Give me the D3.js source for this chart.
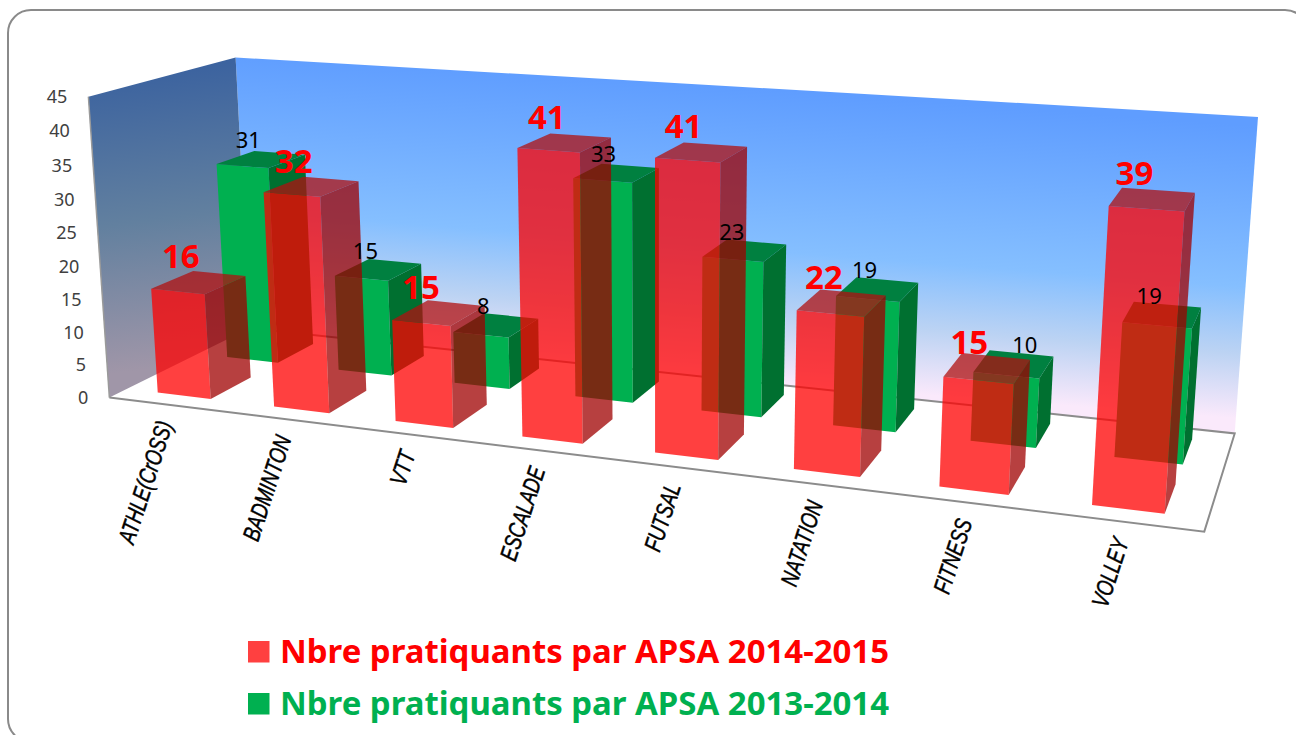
<!DOCTYPE html>
<html><head><meta charset="utf-8">
<script src="https://cdn.jsdelivr.net/npm/d3@7"></script>
<style>html,body{margin:0;padding:0;background:#fff;overflow:hidden}svg{display:block}</style>
</head><body><svg id="c" width="1296" height="735"></svg>
<script>
const categories=["ATHLE(CrOSS)","BADMINTON","VTT","ESCALADE","FUTSAL","NATATION","FITNESS","VOLLEY"];
const values2015=[16,32,15,41,41,22,15,39];
const values2014=[31,15,8,33,23,19,10,19];
const seriesNames=["Nbre pratiquants par APSA 2014-2015","Nbre pratiquants par APSA 2013-2014"];
const yTicks=[0,5,10,15,20,25,30,35,40,45];

// camera calibration: box corners [u 0..1, v 0..1, h 0..1] -> screen
const calib=[[0,0,0,110,398],[1,0,0,1204,532],[0,1,0,249,328],[1,1,0,1235,433],[0,0,1,88,96],[0,1,1,236,58],[1,1,1,1258,117]];
function solve(A,b){const n=b.length,M=A.map((r,i)=>[...r,b[i]]);
  for(let i=0;i<n;i++){let p=i;for(let r=i+1;r<n;r++)if(Math.abs(M[r][i])>Math.abs(M[p][i]))p=r;[M[i],M[p]]=[M[p],M[i]];
    for(let r=0;r<n;r++){if(r===i)continue;const f=M[r][i]/M[i][i];for(let c=i;c<=n;c++)M[r][c]-=f*M[i][c];}}
  return M.map((r,i)=>r[n]/r[i]);}
const P=(()=>{const rows=[],rhs=[];
  calib.forEach(([U,V,H,x,y])=>{x/=1000;y/=1000;
    rows.push([U,V,H,1,0,0,0,0,-x*U,-x*V,-x*H]);rhs.push(x);
    rows.push([0,0,0,0,U,V,H,1,-y*U,-y*V,-y*H]);rhs.push(y);});
  const A=d3.range(11).map(i=>d3.range(11).map(j=>d3.sum(rows,r=>r[i]*r[j])));
  const b=d3.range(11).map(i=>d3.sum(rows,(r,k)=>r[i]*rhs[k]));
  return solve(A,b);})();
const uS=d3.scaleLinear().domain([0,categories.length]).range([0,1]);
const hS=d3.scaleLinear().domain([0,45]).range([0,1]);
function proj(u,v,val){const U=uS(u),V=v,H=hS(val);
  const w=P[8]*U+P[9]*V+P[10]*H+1;
  return [1000*(P[0]*U+P[1]*V+P[2]*H+P[3])/w,1000*(P[4]*U+P[5]*V+P[6]*H+P[7])/w];}

const band=d3.scaleBand().domain(categories).range([0,categories.length]).paddingInner(0.54).paddingOuter(0.27);
const depth={red:[0.115,0.40],green:[0.605,0.885]};

const svg=d3.select("#c");
const defs=svg.append("defs");
function grad(id,a,b,stops){const g=defs.append("linearGradient").attr("id",id).attr("gradientUnits","userSpaceOnUse")
  .attr("x1",a[0]).attr("y1",a[1]).attr("x2",b[0]).attr("y2",b[1]);
  stops.forEach(([o,c])=>g.append("stop").attr("offset",o).attr("stop-color",c));}
const ptsStr=a=>a.map(p=>p.map(n=>n.toFixed(1)).join(",")).join(" ");
const poly=(g,a,fill,op)=>g.append("polygon").attr("points",ptsStr(a)).attr("fill",fill).attr("fill-opacity",op==null?1:op);

// card
svg.append("rect").attr("x",8).attr("y",10).attr("width",1300).attr("height",732).attr("rx",23).attr("ry",23)
  .attr("fill","#fff").attr("stroke","#8a8a8a").attr("stroke-width",2);

const N=categories.length;
const g=svg.append("g");
// walls and floor
const wt0=proj(N/2,1,45),wb0=proj(N/2,1,0);
grad("back",wt0,[wt0[0]-22,wb0[1]],[[0,"#5f9dff"],[0.55,"#85bfff"],[0.78,"#bcd3f3"],[1,"#fae9fb"]]);
grad("left",[150,72],[185,365],[[0,"#3c639f"],[0.5,"#62809f"],[1,"#a096a8"]]);
poly(g,[proj(0,0,0),proj(N,0,0),proj(N,1,0),proj(0,1,0)],"#fff");
poly(g,[proj(0,1,0),proj(N,1,0),proj(N,1,45),proj(0,1,45)],"url(#back)");
poly(g,[proj(0,0,0),proj(0,1,0),proj(0,1,45),proj(0,0,45)],"url(#left)");
const line=d3.line();
g.append("path").attr("d",line([proj(0,0,0),proj(N,0,0),proj(N,1,0),proj(0,1,0)])).attr("fill","none").attr("stroke","#8c8c8c").attr("stroke-width",2);
g.append("path").attr("d",line([proj(0,0,0),proj(0,0,45)])).attr("fill","none").attr("stroke","#9a9a9a").attr("stroke-width",1.5);

function bar(cat,val,[v0,v1],front,side,top,op){
  const a=band(cat),b=a+band.bandwidth();
  poly(g,[proj(a,v0,0),proj(b,v0,0),proj(b,v0,val),proj(a,v0,val)],front,op);
  poly(g,[proj(b,v0,0),proj(b,v1,0),proj(b,v1,val),proj(b,v0,val)],side,op);
  poly(g,[proj(a,v0,val),proj(b,v0,val),proj(b,v1,val),proj(a,v1,val)],top,op);
}
categories.forEach((c,i)=>bar(c,values2014[i],depth.green,"#00b050","#007030","#008040",1));
categories.forEach((c,i)=>bar(c,values2015[i],depth.red,"#ff0000","#9f0000","#b01010",0.75));

// y axis labels
const F="'Noto Sans',sans-serif";
yTicks.forEach(t=>{const p=proj(0,0,t);
  svg.append("text").attr("x",p[0]-21).attr("y",p[1]+6).attr("text-anchor","end").attr("font-family",F)
    .attr("font-size",18).attr("fill","#404040").text(t);});
// category labels
categories.forEach(c=>{const m=band(c)+band.bandwidth()/2,p=proj(m,0,0);
  svg.append("text").attr("transform",`translate(${p[0]-2},${p[1]+17}) rotate(-72) scale(0.76,1)`).attr("text-anchor","end")
    .attr("font-family","'Liberation Sans Narrow','Liberation Sans',sans-serif").attr("font-style","italic")
    .attr("font-size",24).attr("fill","#000").attr("stroke","#000").attr("stroke-width",0.5).attr("dy","0.35em").text(c);});
// value labels
const labelShift2014=[0,0,0,0,0,0,24,0];
function valueLabel(c,val,d,dx,dy,size,weight,fill){
  const m=band(c)+band.bandwidth()/2,p=proj(m,(d[0]+d[1])/2,val);
  svg.append("text").attr("x",p[0]+dx).attr("y",p[1]+dy).attr("text-anchor","middle").attr("font-family",F)
    .attr("font-size",size).attr("font-weight",weight).attr("fill",fill).text(val);}
categories.forEach((c,i)=>valueLabel(c,values2014[i],depth.green,-13+labelShift2014[i],-11,22,400,"#000"));
categories.forEach((c,i)=>valueLabel(c,values2015[i],depth.red,-18,-14,33,700,"#ff0000"));
// legend
const legendColors=["#ff4040","#00b050"],legendText=["#ff0000","#00b050"];
seriesNames.forEach((s,i)=>{const y=641+52*i;
  svg.append("rect").attr("x",248).attr("y",y).attr("width",21.5).attr("height",21.5).attr("fill",legendColors[i]);
  svg.append("text").attr("x",280).attr("y",y+22).attr("font-family",F).attr("font-weight",700).attr("font-size",32)
    .attr("fill",legendText[i]).attr("textLength",609).attr("lengthAdjust","spacingAndGlyphs").text(s);});
</script></body></html>
